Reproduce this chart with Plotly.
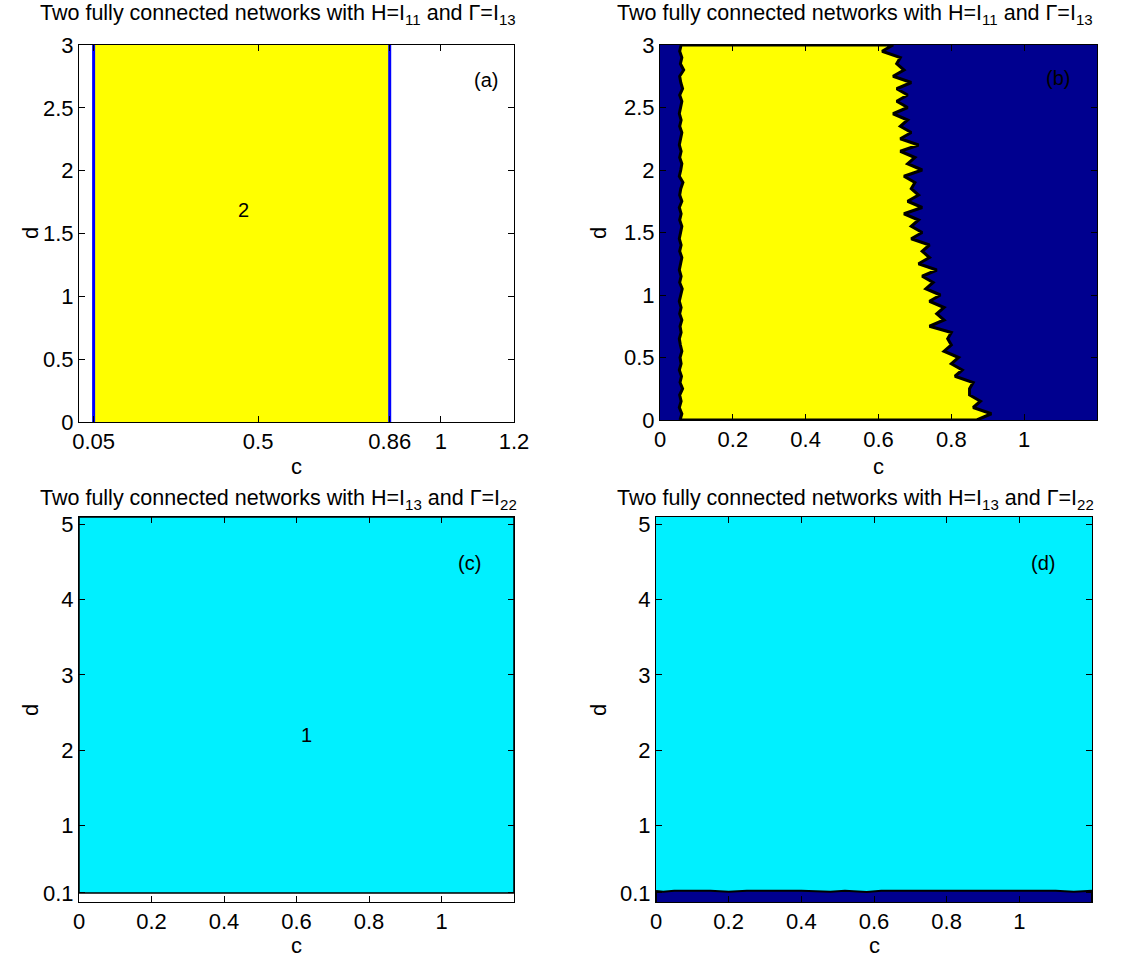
import plotly.graph_objects as go

# ---------------- data ----------------
# panel (a): stable region for c in [0.05, 0.86]
a_bounds_c = [0.05, 0.86]
a_d = [0, 3]
a_xticks = [0.05, 0.5, 0.86, 1, 1.2]
a_yticks = [0, 0.5, 1, 1.5, 2, 2.5, 3]

# panel (b): boundaries of the yellow region read at d steps of 0.05
b_d = [round(0.05 * i, 2) for i in range(61)]
b_left = [0.055, 0.060, 0.053, 0.058, 0.054, 0.062, 0.055, 0.059, 0.053, 0.058,
          0.055, 0.060, 0.056, 0.053, 0.058, 0.055, 0.060, 0.054, 0.058, 0.053,
          0.057, 0.061, 0.054, 0.058, 0.053, 0.057, 0.060, 0.054, 0.058, 0.053,
          0.056, 0.060, 0.054, 0.058, 0.053, 0.060, 0.054, 0.057, 0.063, 0.053,
          0.057, 0.060, 0.054, 0.058, 0.053, 0.057, 0.060, 0.054, 0.058, 0.053,
          0.057, 0.060, 0.054, 0.062, 0.057, 0.054, 0.065, 0.056, 0.060, 0.054, 0.058]
b_right = [0.87, 0.91, 0.86, 0.88, 0.85, 0.85, 0.86, 0.81, 0.83, 0.80,
           0.82, 0.78, 0.80, 0.79, 0.80, 0.74, 0.78, 0.76, 0.78, 0.74,
           0.77, 0.73, 0.75, 0.72, 0.76, 0.71, 0.74, 0.72, 0.74, 0.69,
           0.72, 0.69, 0.71, 0.67, 0.72, 0.68, 0.71, 0.69, 0.70, 0.67,
           0.72, 0.68, 0.70, 0.66, 0.71, 0.66, 0.69, 0.66, 0.68, 0.64,
           0.68, 0.65, 0.68, 0.65, 0.69, 0.64, 0.67, 0.65, 0.66, 0.61, 0.64]
b_c_range = [0, 1.2]
b_xticks = [0, 0.2, 0.4, 0.6, 0.8, 1]

# panel (c): region 1 for d >= 0.1
c_c_range = [0, 1.2]
c_d_range = [0.1, 5.1]
cd_yticks = [0.1, 1, 2, 3, 4, 5]

# panel (d): top of the dark strip along c
d_c = [0, 0.02, 0.05, 0.1, 0.15, 0.2, 0.25, 0.3, 0.4, 0.48, 0.52, 0.58, 0.62,
       0.7, 0.8, 0.9, 1.0, 1.1, 1.15, 1.18, 1.2]
d_top = [0.125, 0.115, 0.13, 0.13, 0.13, 0.115, 0.13, 0.13, 0.13, 0.115, 0.13,
         0.112, 0.13, 0.13, 0.13, 0.13, 0.13, 0.13, 0.115, 0.13, 0.13]

TITLE_AB = "Two fully connected networks with H=I<sub>11</sub> and Γ=I<sub>13</sub>"
TITLE_CD = "Two fully connected networks with H=I<sub>13</sub> and Γ=I<sub>22</sub>"

YELLOW = "#FFFF00"
NAVY = "#00008F"
CYAN = "#00F0FF"
BLUE = "#0000FF"
FONT = "Arial, Liberation Sans, sans-serif"
FS = 22

W, H = 1138, 964

def xd(p0, p1):
    return [p0 / W, p1 / W]

def yd(p0, p1):
    return [1 - p1 / H, 1 - p0 / H]

fig = go.Figure()

# ---------- (a) ----------
fig.add_trace(go.Scatter(
    x=[a_bounds_c[0], a_bounds_c[1], a_bounds_c[1], a_bounds_c[0], a_bounds_c[0]],
    y=[a_d[0], a_d[0], a_d[1], a_d[1], a_d[0]],
    fill="toself", fillcolor=YELLOW, line=dict(width=0), mode="lines",
    xaxis="x", yaxis="y", hoverinfo="skip"))
for cb in a_bounds_c:
    fig.add_trace(go.Scatter(x=[cb, cb], y=a_d, mode="lines",
                             line=dict(color=BLUE, width=3),
                             xaxis="x", yaxis="y", hoverinfo="skip"))

# ---------- (b) ----------
fig.add_trace(go.Scatter(
    x=[b_c_range[0], b_c_range[1], b_c_range[1], b_c_range[0], b_c_range[0]],
    y=[b_d[0], b_d[0], b_d[-1], b_d[-1], b_d[0]],
    fill="toself", fillcolor=NAVY, line=dict(width=0), mode="lines",
    xaxis="x2", yaxis="y2", hoverinfo="skip"))
fig.add_trace(go.Scatter(
    x=b_left + b_right[::-1] + [b_left[0]],
    y=b_d + b_d[::-1] + [b_d[0]],
    fill="toself", fillcolor=YELLOW, line=dict(color="black", width=3),
    mode="lines", xaxis="x2", yaxis="y2", hoverinfo="skip"))

# ---------- (c) ----------
fig.add_trace(go.Scatter(
    x=[c_c_range[0], c_c_range[1], c_c_range[1], c_c_range[0], c_c_range[0]],
    y=[c_d_range[0], c_d_range[0], c_d_range[1], c_d_range[1], c_d_range[0]],
    fill="toself", fillcolor=CYAN, line=dict(color="black", width=1.5), mode="lines",
    xaxis="x3", yaxis="y3", hoverinfo="skip"))

# ---------- (d) ----------
fig.add_trace(go.Scatter(
    x=[c_c_range[0], c_c_range[1], c_c_range[1], c_c_range[0], c_c_range[0]],
    y=[-0.1, -0.1, c_d_range[1], c_d_range[1], -0.1],
    fill="toself", fillcolor=CYAN, line=dict(width=0), mode="lines",
    xaxis="x4", yaxis="y4", hoverinfo="skip"))
fig.add_trace(go.Scatter(
    x=d_c + [d_c[-1], d_c[0], d_c[0]],
    y=d_top + [-0.1, -0.1, d_top[0]],
    fill="toself", fillcolor=NAVY, line=dict(color="black", width=2),
    mode="lines", xaxis="x4", yaxis="y4", hoverinfo="skip"))

axis_common = dict(showline=True, linecolor="black", linewidth=1, mirror="ticks",
                   ticks="inside", ticklen=6, tickcolor="black", showgrid=False,
                   zeroline=False, tickfont=dict(size=FS, color="black", family=FONT),
                   layer="above traces", automargin=False)

def ax(domain, rng, ticks, anchor):
    return dict(axis_common, domain=domain, range=rng, tickvals=ticks,
                ticktext=[("%g" % t) for t in ticks], anchor=anchor)

fig.update_layout(
    width=W, height=H, margin=dict(l=0, r=0, t=0, b=0, autoexpand=False),
    paper_bgcolor="white", plot_bgcolor="white", showlegend=False,
    font=dict(family=FONT, color="black"),
    xaxis=ax(xd(79, 514), [0.01, 1.2], a_xticks, "y"),
    yaxis=ax(yd(45, 422), [0, 3], a_yticks, "x"),
    xaxis2=ax(xd(660, 1097), [0, 1.2], b_xticks, "y2"),
    yaxis2=ax(yd(45, 420), [0, 3], a_yticks, "x2"),
    xaxis3=ax(xd(79, 514), [0, 1.2], b_xticks, "y3"),
    yaxis3=ax(yd(517, 902), [-0.02, 5.1], cd_yticks, "x3"),
    xaxis4=ax(xd(656, 1092), [0, 1.2], b_xticks, "y4"),
    yaxis4=ax(yd(517, 902), [-0.02, 5.1], cd_yticks, "x4"),
)

def paper_text(txt, xp, yp, xanchor="center", angle=0, size=FS):
    fig.add_annotation(text=txt, x=xp / W, y=1 - yp / H,
                       xref="paper", yref="paper",
                       xanchor=xanchor, yanchor="middle", showarrow=False,
                       textangle=angle, font=dict(size=size, family=FONT, color="black"))

# titles
paper_text(TITLE_AB, 38, 15, "left", size=21.5)
paper_text(TITLE_AB, 615, 15, "left", size=21.5)
paper_text(TITLE_CD, 38, 499, "left", size=21.5)
paper_text(TITLE_CD, 615, 499, "left", size=21.5)

# axis titles
paper_text("c", 296, 466)
paper_text("c", 878, 466)
paper_text("c", 296, 945)
paper_text("c", 874, 945)
paper_text("d", 30, 233, angle=-90)
paper_text("d", 598, 233, angle=-90)
paper_text("d", 30, 710, angle=-90)
paper_text("d", 598, 710, angle=-90)

# in-plot labels
labels = [("(a)", 1.124, 2.72, "x", "y"), ("2", 0.46, 1.69, "x", "y"),
          ("(b)", 1.094, 2.74, "x2", "y2"),
          ("(c)", 1.077, 4.49, "x3", "y3"), ("1", 0.628, 2.2, "x3", "y3"),
          ("(d)", 1.066, 4.49, "x4", "y4")]
for t, x, y, xr, yr in labels:
    fig.add_annotation(text=t, x=x, y=y, xref=xr, yref=yr, showarrow=False,
                       font=dict(size=20, family=FONT, color="black"))

# remove the default page margin so the figure sits at the window's top-left corner
fig.write_html("out.html",
               config={"displayModeBar": False},
               post_script="document.body.style.margin='0';document.body.style.overflow='hidden';")
